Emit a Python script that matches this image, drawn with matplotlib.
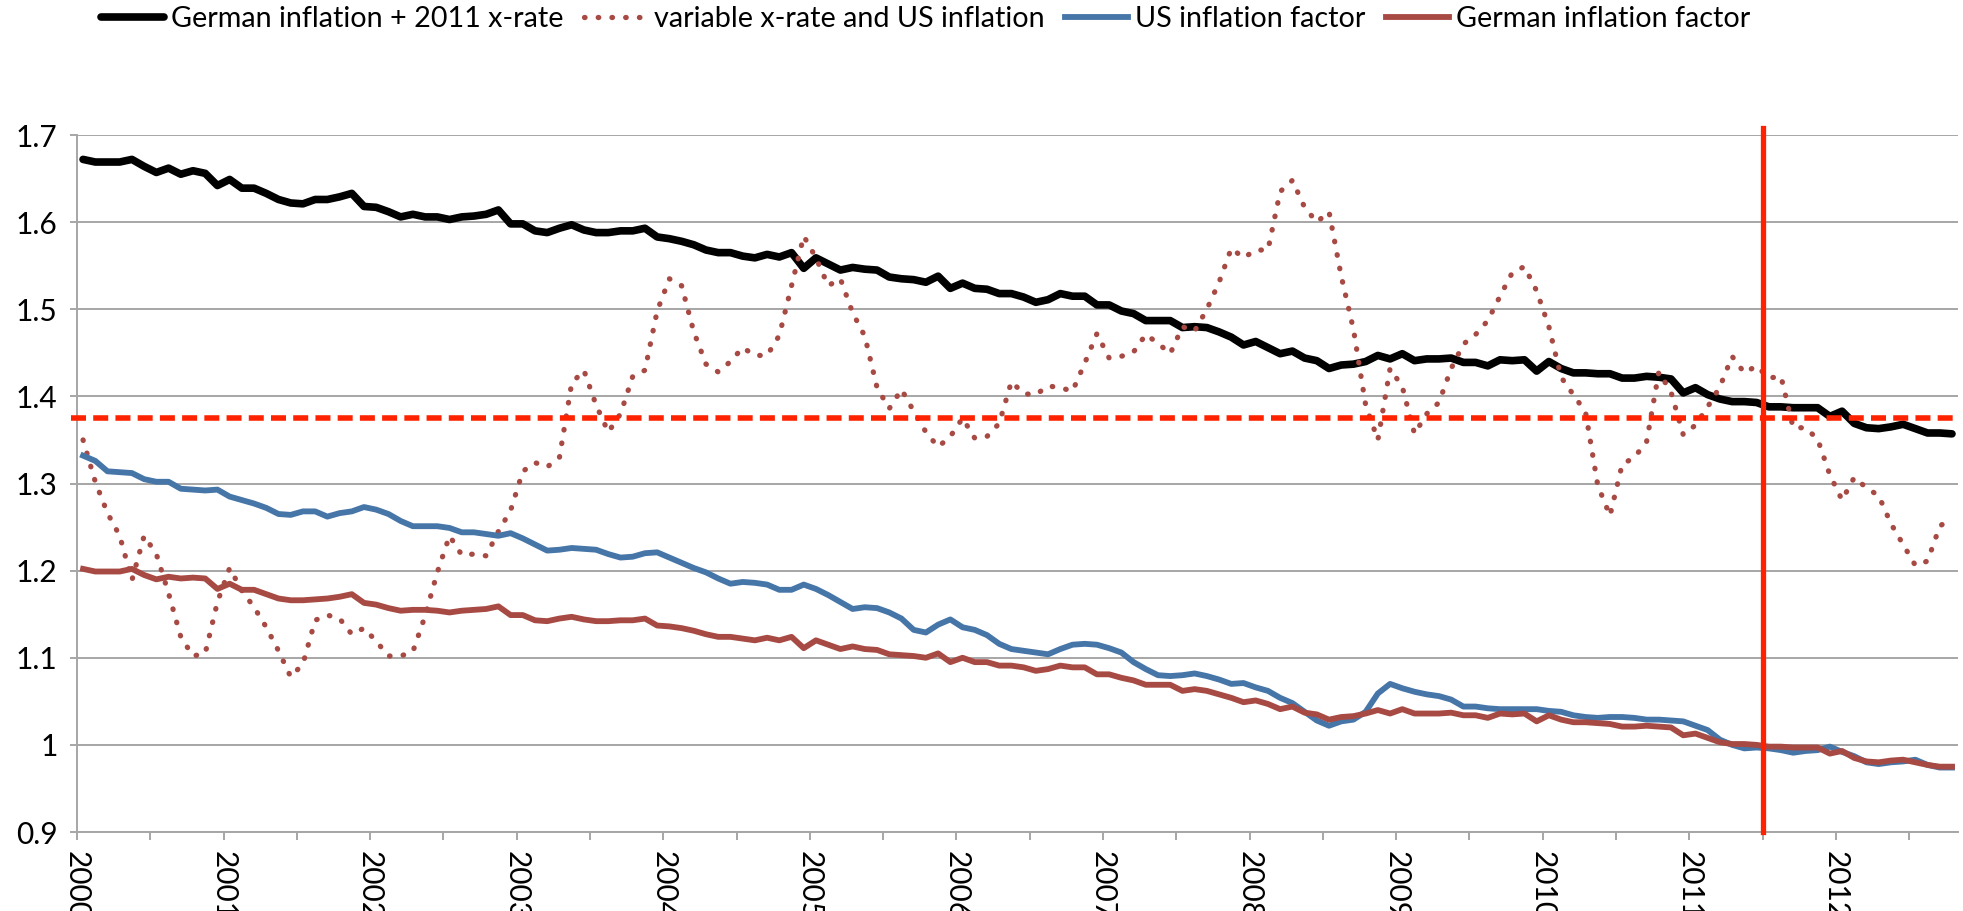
import matplotlib
matplotlib.use('Agg')
import matplotlib.pyplot as plt
import numpy as np

plt.rcParams['font.family'] = ['Lato', 'DejaVu Sans']

# monthly series, Jan 2000 .. Oct 2012
years = list(range(2000, 2013))

german_2011_rate = [
    1.672, 1.669, 1.669, 1.669, 1.672, 1.664, 1.657, 1.662, 1.655, 1.659, 1.656, 1.642,
    1.649, 1.639, 1.639, 1.633, 1.626, 1.622, 1.621, 1.626, 1.626, 1.629, 1.633, 1.618,
    1.617, 1.612, 1.606, 1.609, 1.606, 1.606, 1.603, 1.606,
    1.607, 1.609, 1.614, 1.598, 1.598, 1.590, 1.588, 1.593, 1.597, 1.591, 1.588, 1.588,
    1.590, 1.590, 1.593, 1.583, 1.581, 1.578, 1.574, 1.568, 1.565, 1.565, 1.561, 1.559,
    1.563, 1.560, 1.565, 1.547, 1.559, 1.552, 1.545,
    1.548, 1.546, 1.545, 1.537, 1.535, 1.534, 1.531, 1.538, 1.524, 1.530, 1.524, 1.523,
    1.518, 1.518, 1.514, 1.508, 1.511, 1.518, 1.515, 1.515, 1.505, 1.505, 1.498, 1.495,
    1.487, 1.487, 1.487, 1.479, 1.480, 1.479, 1.474,
    1.468, 1.459, 1.463, 1.456, 1.449, 1.452, 1.444, 1.441, 1.432, 1.436, 1.437, 1.440,
    1.447, 1.443, 1.449, 1.441, 1.443, 1.443, 1.444, 1.439, 1.439, 1.435, 1.442, 1.441,
    1.442, 1.429, 1.440, 1.432, 1.427, 1.427, 1.426,
    1.426, 1.421, 1.421, 1.423, 1.422, 1.420, 1.404, 1.410, 1.402, 1.397, 1.394, 1.394,
    1.393, 1.388, 1.388, 1.387, 1.387, 1.387, 1.377, 1.383, 1.369, 1.364, 1.363, 1.365,
    1.368, 1.363, 1.358, 1.358, 1.357,
]

variable_rate_us = [
    1.350, 1.302, 1.266, 1.240, 1.189, 1.240, 1.219, 1.174, 1.124, 1.102, 1.105, 1.164,
    1.203, 1.177, 1.158, 1.135, 1.108, 1.078, 1.093, 1.143, 1.149, 1.145, 1.127, 1.134,
    1.119, 1.102, 1.102, 1.107, 1.148, 1.198, 1.240, 1.218,
    1.219, 1.217, 1.245, 1.269, 1.314, 1.324, 1.319, 1.330, 1.415, 1.430, 1.390, 1.359,
    1.380, 1.423, 1.430, 1.498, 1.535, 1.527, 1.474, 1.437, 1.428, 1.440, 1.456, 1.447,
    1.447, 1.470, 1.527, 1.584, 1.559, 1.527, 1.535,
    1.496, 1.469, 1.410, 1.386, 1.408, 1.383, 1.359, 1.342, 1.354, 1.375, 1.352, 1.354,
    1.369, 1.417, 1.403, 1.402, 1.412, 1.410, 1.406, 1.438, 1.472, 1.444, 1.446, 1.451,
    1.471, 1.461, 1.449, 1.480, 1.475, 1.500, 1.531,
    1.570, 1.559, 1.568, 1.568, 1.635, 1.648, 1.617, 1.600, 1.612, 1.538, 1.477, 1.390,
    1.350, 1.432, 1.411, 1.357, 1.380, 1.393, 1.432, 1.460, 1.471, 1.487, 1.515, 1.542,
    1.549, 1.521, 1.480, 1.422, 1.402, 1.382, 1.298,
    1.263, 1.322, 1.330, 1.348, 1.428, 1.405, 1.356, 1.367, 1.388, 1.411, 1.446, 1.427,
    1.435, 1.421, 1.423, 1.364, 1.364, 1.351, 1.310, 1.281, 1.307, 1.295, 1.286, 1.254,
    1.230, 1.206, 1.211, 1.251, 1.261,
]

us_factor = [
    1.332, 1.326, 1.314, 1.313, 1.312, 1.305, 1.302, 1.302, 1.294, 1.293, 1.292, 1.293,
    1.285, 1.281, 1.277, 1.272, 1.265, 1.264, 1.268, 1.268, 1.262, 1.266, 1.268, 1.273,
    1.270, 1.265, 1.257, 1.251, 1.251, 1.251, 1.249, 1.244,
    1.244, 1.242, 1.240, 1.243, 1.237, 1.230, 1.223, 1.224, 1.226, 1.225, 1.224, 1.219,
    1.215, 1.216, 1.220, 1.221, 1.215, 1.209, 1.203, 1.198, 1.191, 1.185, 1.187, 1.186,
    1.184, 1.178, 1.178, 1.184, 1.179, 1.172, 1.164,
    1.156, 1.158, 1.157, 1.152, 1.145, 1.132, 1.129, 1.138, 1.144, 1.135, 1.132, 1.126,
    1.116, 1.110, 1.108, 1.106, 1.104, 1.110, 1.115, 1.116, 1.115, 1.111, 1.106, 1.095,
    1.087, 1.080, 1.079, 1.080, 1.082, 1.079, 1.075,
    1.070, 1.071, 1.066, 1.062, 1.054, 1.048, 1.038, 1.028, 1.022, 1.027, 1.029, 1.038,
    1.059, 1.070, 1.065, 1.061, 1.058, 1.056, 1.052, 1.044, 1.044, 1.042, 1.041, 1.041,
    1.041, 1.041, 1.039, 1.038, 1.034, 1.032, 1.031,
    1.032, 1.032, 1.031, 1.029, 1.029, 1.028, 1.027, 1.022, 1.017, 1.006, 1.000, 0.996,
    0.997, 0.996, 0.994, 0.991, 0.993, 0.994, 0.998, 0.992, 0.987, 0.980, 0.978, 0.980,
    0.981, 0.983, 0.977, 0.974, 0.974,
]

german_factor = [
    1.202, 1.199, 1.199, 1.199, 1.202, 1.195, 1.190, 1.193, 1.191, 1.192, 1.191, 1.179,
    1.185, 1.178, 1.178, 1.173, 1.168, 1.166, 1.166, 1.167, 1.168, 1.170, 1.173, 1.163,
    1.161, 1.157, 1.154, 1.155, 1.155, 1.154, 1.152, 1.154,
    1.155, 1.156, 1.159, 1.149, 1.149, 1.143, 1.142, 1.145, 1.147, 1.144, 1.142, 1.142,
    1.143, 1.143, 1.145, 1.137, 1.136, 1.134, 1.131, 1.127, 1.124, 1.124, 1.122, 1.120,
    1.123, 1.120, 1.124, 1.111, 1.120, 1.115, 1.110,
    1.113, 1.110, 1.109, 1.104, 1.103, 1.102, 1.100, 1.105, 1.095, 1.100, 1.095, 1.095,
    1.091, 1.091, 1.089, 1.085, 1.087, 1.091, 1.089, 1.089, 1.081, 1.081, 1.077, 1.074,
    1.069, 1.069, 1.069, 1.062, 1.064, 1.062, 1.058,
    1.054, 1.049, 1.051, 1.047, 1.041, 1.044, 1.037, 1.035, 1.029, 1.032, 1.033, 1.036,
    1.040, 1.036, 1.041, 1.036, 1.036, 1.036, 1.037, 1.034, 1.034, 1.031, 1.036, 1.035,
    1.036, 1.027, 1.034, 1.029, 1.026, 1.026, 1.025,
    1.024, 1.021, 1.021, 1.022, 1.021, 1.020, 1.011, 1.013, 1.008, 1.003, 1.001, 1.001,
    1.000, 0.998, 0.998, 0.997, 0.997, 0.997, 0.990, 0.993, 0.985, 0.981, 0.980, 0.982,
    0.983, 0.980, 0.977, 0.975, 0.975,
]

rate_2011 = 1.375      # fixed exchange rate level
cutoff_month = 138     # mid 2011

n = len(german_2011_rate)
x = np.arange(n) + 0.5

fig = plt.figure(figsize=(19.63, 9.11), dpi=100)
ax = fig.add_axes([0.0392, 0.0867, 0.9583, 0.7651])

grey = '#A6A6A6'
blue = '#4675A8'
brick = '#A84A44'
hot = '#FF2200'

l1, = ax.plot(x, german_2011_rate, color='black', lw=5.5, solid_joinstyle='round',
              solid_capstyle='round', zorder=4)
l2, = ax.plot(x, variable_rate_us, color=brick, lw=3.8, linestyle=(0, (0.1, 2.5)),
              dash_capstyle='round', zorder=4)
l3, = ax.plot(x, us_factor, color=blue, lw=4.2, solid_joinstyle='round', zorder=4)
l4, = ax.plot(x, german_factor, color=brick, lw=4.2, solid_joinstyle='round', zorder=4)

ax.axhline(rate_2011, xmin=-0.003, xmax=1, color=hot, lw=4,
           linestyle=(0, (2.7, 1.3)), clip_on=False, zorder=5)
ax.plot([cutoff_month, cutoff_month], [0.9, 1.708], color=hot, lw=3.8,
        clip_on=False, zorder=5)

ax.set_xlim(0, n)
ax.set_ylim(0.9, 1.7)

yt = np.round(np.arange(0.9, 1.71, 0.1), 1)
ax.set_yticks(yt)
ax.set_yticklabels([f'{v:g}' for v in yt])
ax.set_xticks(np.arange(0, n, 12))
ax.set_xticklabels([str(y) for y in years], rotation=-90, va='top', ha='center')
ax.set_xticks(np.arange(6, n, 12), minor=True)

ax.yaxis.grid(True, color=grey, lw=1.4)
ax.set_axisbelow(True)
for s in ['top', 'right']:
    ax.spines[s].set_visible(False)
for s in ['left', 'bottom']:
    ax.spines[s].set_color(grey)
    ax.spines[s].set_linewidth(1.4)

ax.tick_params(axis='y', length=5, width=1.4, color=grey, pad=9, labelsize=21.5)
ax.tick_params(axis='x', which='both', length=6, width=1.4, color=grey, pad=8,
               labelsize=21.5)

fig.legend([l1, l2, l3, l4],
           ['German inflation + 2011 x-rate', 'variable x-rate and US inflation',
            'US inflation factor', 'German inflation factor'],
           loc='center', bbox_to_anchor=(0.4715, 0.979), ncol=4, frameon=False,
           fontsize=20.7, handlelength=2.2, handletextpad=0.25, columnspacing=0.7,
           borderpad=0)

fig.savefig('out.png', dpi=100)
